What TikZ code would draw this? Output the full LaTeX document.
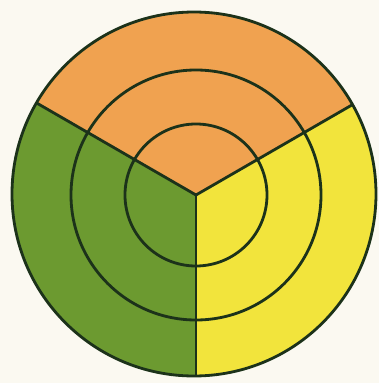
\documentclass[tikz,border=0pt]{standalone}
\usepackage{tikz}
\definecolor{PaperWhite}{RGB}{251,249,241}
\definecolor{SectorOrange}{RGB}{240,162,80}
\definecolor{SectorGreen}{RGB}{108,154,48}
\definecolor{SectorYellow}{RGB}{242,228,60}
\definecolor{RimGreen}{RGB}{28,50,26}

\begin{document}
\begin{tikzpicture}[x=0.025cm, y=0.025cm, line width=2pt, line join=round]
        % Paper
        \useasboundingbox [fill=PaperWhite] (-196,-188) rectangle (183,195);
        \coordinate (centre) at (0,0);
        \coordinate (rim) at (-2,1);
        % Sectors, clipped to the rim
        \begin{scope}
            \clip (rim) circle [radius=182];
            \fill [SectorOrange] (centre) -- (150:250) arc (150:30:250) -- cycle;
            \fill [SectorYellow] (centre) -- (30:250) arc (30:-90:250) -- cycle;
            \fill [SectorGreen] (centre) -- (-90:250) arc (-90:-210:250) -- cycle;
            % Dividers
            \draw [RimGreen] (150:250) -- (centre) -- (30:250);
            \draw [RimGreen] (centre) -- (-90:250);
        \end{scope}
        % Rings
        \draw [RimGreen] (centre) circle [radius=71];
        \draw [RimGreen] (centre) circle [radius=125];
        \draw [RimGreen] (rim) circle [radius=182];
    \end{tikzpicture}
\end{document}
